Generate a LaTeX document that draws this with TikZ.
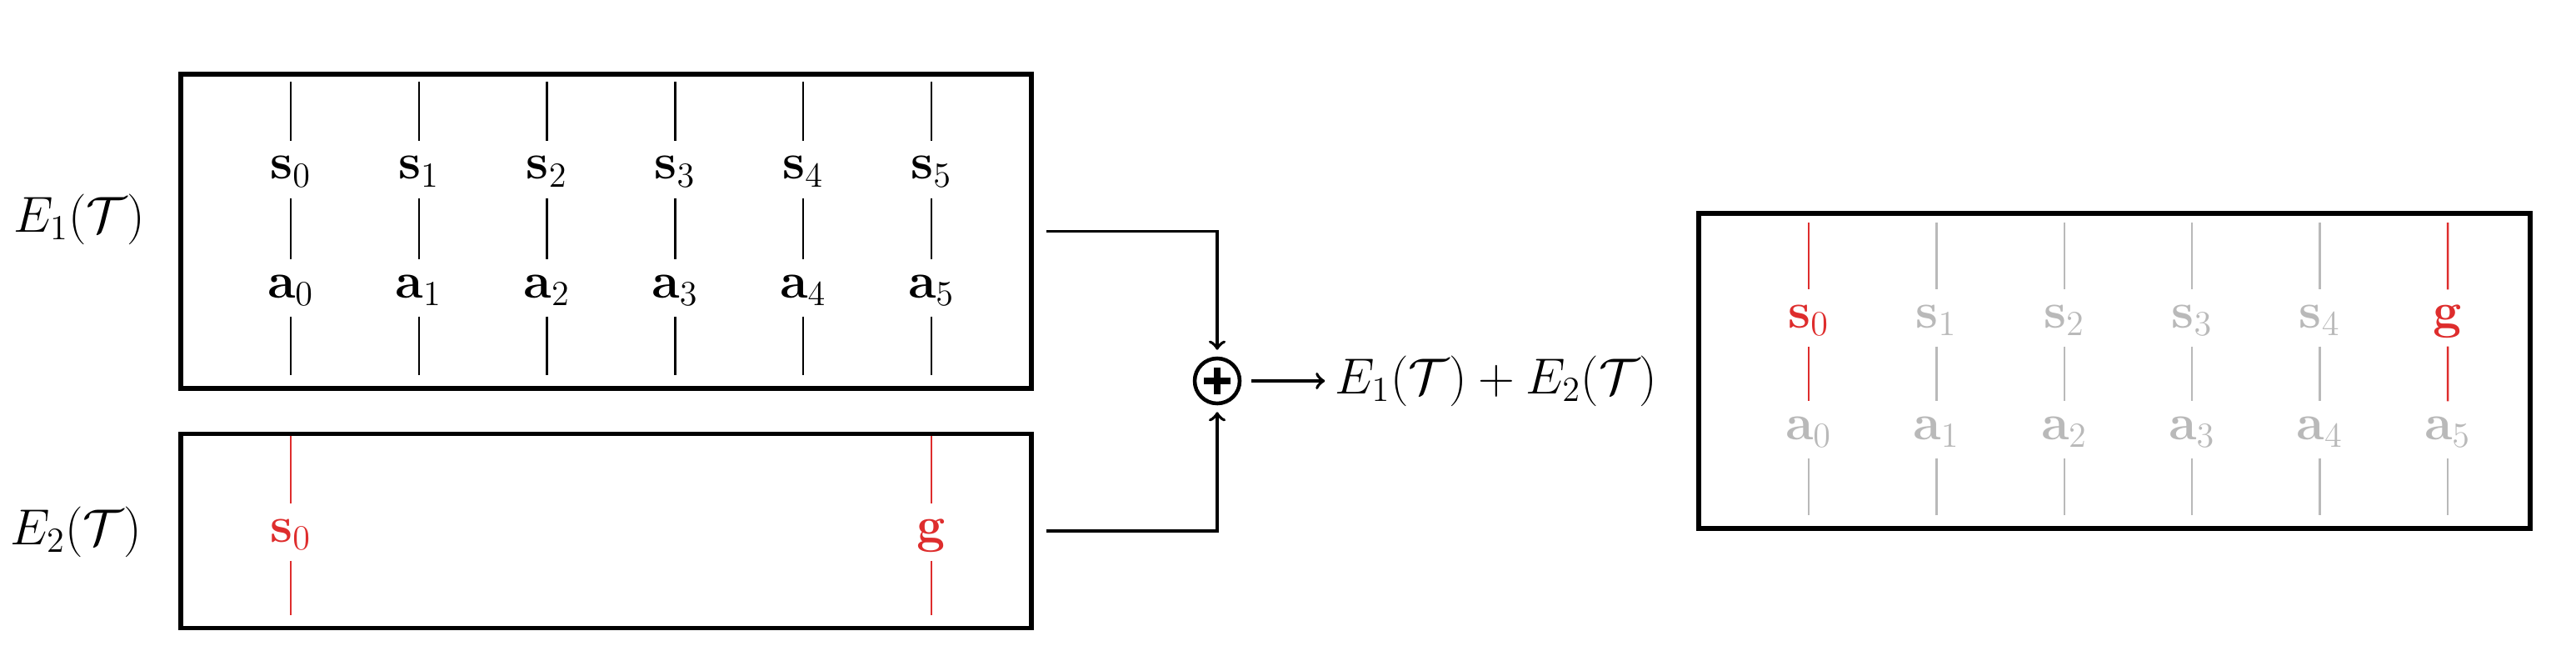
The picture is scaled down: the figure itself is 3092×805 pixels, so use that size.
\documentclass[tikz,border=0pt]{standalone}
\usetikzlibrary{positioning, arrows}
\usepackage{amsmath}
\usepackage{amssymb}
\usepackage{color}
\definecolor{goalred}{RGB}{222,45,45}
\definecolor{fadegray}{RGB}{185,185,185}

\tikzset{
  box/.style={draw, line width=1.6pt, inner sep=0pt},
  tok/.style={anchor=base, inner sep=0pt, text height=4.5mm, text depth=2.2mm,
    font=\fontsize{17.5}{20}\selectfont},
  lbl/.style={font=\fontsize{16.5}{20}\selectfont},
  tick/.style={-, line width=0.7pt},
  link/.style={->, line width=1.1pt},
  oplus/.style={circle, draw, line width=1.3pt, minimum size=5.4mm, inner sep=0pt,
    path picture={
      \draw[line width=0.75mm] ([xshift=-1.6mm]path picture bounding box.center)
        -- ([xshift=1.6mm]path picture bounding box.center);
      \draw[line width=0.75mm] ([yshift=-1.6mm]path picture bounding box.center)
        -- ([yshift=1.6mm]path picture bounding box.center);
    }}
}

\begin{document}
\begin{tikzpicture}[x=0.1mm, y=-0.1mm]
  \useasboundingbox (0,0) rectangle (3092,805);

  % the two encodings
  \node[box, minimum width=102.1mm, minimum height=37.7mm] (box1) at (727.5,277.5) {};
  \node[box, minimum width=102.1mm, minimum height=23.3mm, below=4.9mm of box1] (box2) {};
  \node[lbl, anchor=base] (lab1) at (95,278) {$E_1(\mathcal{T})$};
  \node[lbl, anchor=base] (lab2) at (91,653) {$E_2(\mathcal{T})$};

  \foreach \i in {0,...,5} {
    \coordinate (t\i) at (349+153.8*\i,98);
    \coordinate (b\i) at (349+153.8*\i,450);
    \node[tok] (s\i) at (349+153.8*\i,215) {$\mathbf{s}_{\i}$};
    \node[tok] (a\i) at (349+153.8*\i,357) {$\mathbf{a}_{\i}$};
    \draw[tick] (t\i) -- (s\i);
    \draw[tick] (s\i) -- (a\i);
    \draw[tick] (a\i) -- (b\i);
  }

  % start and goal
  \coordinate (gt0) at (349,523);
  \coordinate (gb0) at (349,738);
  \coordinate (gt5) at (1118,523);
  \coordinate (gb5) at (1118,738);
  \node[tok, text=goalred] (gs0) at (349,650) {$\mathbf{s}_0$};
  \node[tok, text=goalred] (gg) at (1118,650) {$\mathbf{g}$};
  \draw[tick, goalred] (gt0) -- (gs0);
  \draw[tick, goalred] (gs0) -- (gb0);
  \draw[tick, goalred] (gt5) -- (gg);
  \draw[tick, goalred] (gg) -- (gb5);

  % sum
  \node[oplus] (plus) at (1461,457) {};
  \node[lbl, right=10mm of plus] (sum) {$E_1(\mathcal{T}) + E_2(\mathcal{T})$};
  \draw[link, shorten <=1.5mm, shorten >=0.8mm] (box1.east) -| (plus);
  \draw[link, shorten <=1.5mm, shorten >=0.8mm] (box2.east) -| (plus);
  \draw[link, shorten <=1.2mm] (plus) -- (sum);

  % merged sequence
  \node[box, minimum width=99.8mm, minimum height=37.8mm] (box3) at (2538,445) {};
  \foreach \i in {0,...,5} {
    \coordinate (mt\i) at (2171+153.4*\i,267);
    \coordinate (mb\i) at (2171+153.4*\i,618);
    \node[tok, text=fadegray] (ma\i) at (2171+153.4*\i,527) {$\mathbf{a}_{\i}$};
    \draw[tick, fadegray] (ma\i) -- (mb\i);
  }
  \foreach \i in {1,...,4} {
    \node[tok, text=fadegray] (ms\i) at (2171+153.4*\i,393) {$\mathbf{s}_{\i}$};
    \draw[tick, fadegray] (mt\i) -- (ms\i);
    \draw[tick, fadegray] (ms\i) -- (ma\i);
  }
  \node[tok, text=goalred] (ms0) at (2171,393) {$\mathbf{s}_0$};
  \node[tok, text=goalred] (ms5) at (2938,393) {$\mathbf{g}$};
  \draw[tick, goalred] (mt0) -- (ms0);
  \draw[tick, goalred] (ms0) -- (ma0);
  \draw[tick, goalred] (mt5) -- (ms5);
  \draw[tick, goalred] (ms5) -- (ma5);
\end{tikzpicture}
\end{document}
